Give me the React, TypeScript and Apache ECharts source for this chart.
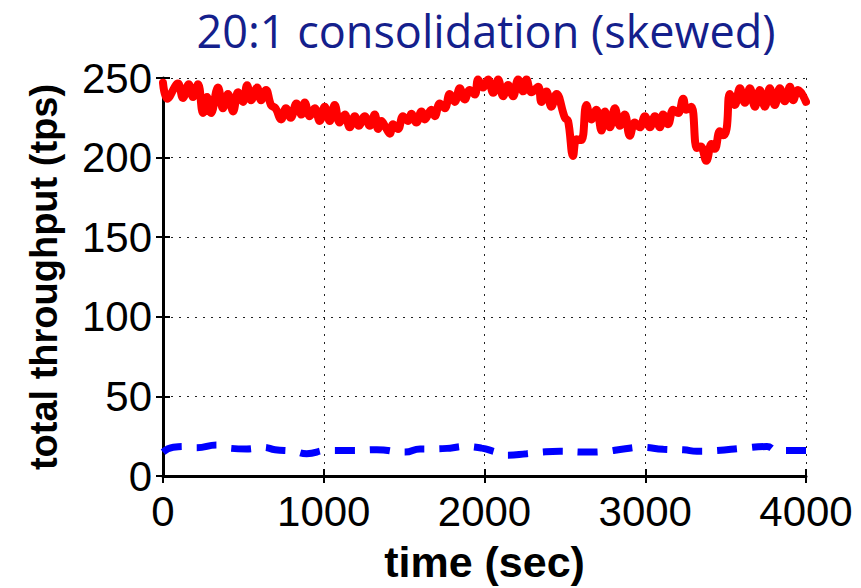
import React, { useEffect, useRef } from "react";
import * as echarts from "echarts";

const title = "20:1 consolidation (skewed)";
const xName = "time (sec)";
const yName = "total throughput (tps)";

// red (solid) series: time (sec) and throughput (tps)
const redTime = [
  0, 27, 93, 124, 160, 187, 218, 249, 274, 299, 342, 373, 404, 436, 467, 498, 523, 548, 585, 610,
  641, 672, 700, 735, 765, 795, 830, 861, 882, 913, 944, 975, 1006, 1037, 1068, 1099, 1131, 1162, 1193, 1218,
  1255, 1286, 1317, 1338, 1359, 1385, 1411, 1431, 1462, 1493, 1525, 1545, 1576, 1608, 1628, 1670, 1691, 1722, 1753, 1784,
  1815, 1846, 1877, 1908, 1940, 1960, 1991, 2022, 2054, 2085, 2116, 2147, 2178, 2209, 2240, 2261, 2292, 2334, 2354, 2385,
  2416, 2448, 2500, 2520, 2551, 2572, 2603, 2634, 2665, 2696, 2728, 2749, 2780, 2811, 2842, 2873, 2904, 2935, 2966, 2998,
  3029, 3060, 3091, 3111, 3142, 3174, 3205, 3236, 3256, 3287, 3321, 3345, 3380, 3412, 3433, 3464, 3485, 3506, 3526, 3557,
  3589, 3620, 3651, 3682, 3713, 3744, 3775, 3806, 3837, 3868, 3900, 3920, 3951, 4000,
];
const redValue = [
  247, 237, 246.5, 237.5, 246, 238, 246, 228, 238, 228, 244, 231, 240, 229, 241, 235, 245.5, 236, 244, 236,
  242.5, 233, 231, 224, 231, 225, 234, 227, 234.6, 226, 231, 223, 232, 223, 233, 222, 227, 219, 226, 220,
  226, 220, 227, 218, 223, 219, 215, 221, 218, 226, 223, 227.5, 222, 229, 224, 230, 226, 234, 231, 240,
  235, 243.5, 236.5, 242.5, 239.6, 249, 244, 249, 240.7, 249, 238.5, 245.6, 238.5, 249, 241.6, 249, 241, 244.5, 235, 241.5,
  232, 240, 225, 223, 201, 211.5, 211, 233, 224, 230, 217, 229, 219, 231, 220, 227, 213.7, 222, 219, 226,
  219, 226, 219, 227, 221, 230, 228, 237, 230, 232, 206, 207, 198, 208.5, 205.5, 216.6, 214, 218, 240, 233,
  243.5, 234.4, 243.5, 232, 242.4, 232, 243.5, 233, 243.5, 235.4, 244.5, 236, 242.5, 235,
];

// blue (dashed) series
const blueTime = [
  0, 64, 147, 209, 334, 407, 521, 624, 697, 811, 894, 1018, 1184, 1330, 1506, 1599, 1672, 1786, 1869, 1983,
  2056, 2139, 2263, 2356, 2470, 2637, 2761, 2854, 2979, 3113, 3238, 3321, 3445, 3611, 3757, 3819, 3943, 4000,
];
const blueValue = [
  15, 18, 18.5, 17.8, 19.5, 17.5, 17, 18, 16.5, 15.5, 14, 16, 16, 16.5, 15, 17, 17, 17.5, 18.5, 17.5,
  15.5, 13, 14, 15, 15.5, 15, 15.5, 16.8, 18, 16.8, 16.5, 15.5, 16, 17.5, 18.5, 16, 16, 16,
];

const xTicks = [0, 1000, 2000, 3000, 4000];
const yTicks = [0, 50, 100, 150, 200, 250];

export default function App() {
  const ref = useRef<HTMLDivElement>(null);
  useEffect(() => {
    if (!ref.current) return;
    const chart = echarts.init(ref.current, undefined, { renderer: "svg" });
    const labelFont = "'Liberation Sans', Arial, sans-serif";
    const gridLine = { show: true, lineStyle: { color: "#222", width: 1, type: [2, 6] as any } };
    chart.setOption({
      animation: false,
      backgroundColor: "#fff",
      title: {
        text: title,
        left: 484,
        top: 1,
        padding: 2,
        textAlign: "center",
        textStyle: {
          color: "#14208c",
          fontSize: 45,
          lineHeight: 54,
          fontWeight: "normal",
          fontFamily: "'Open Sans', 'Noto Sans', sans-serif",
        },
      },
      grid: { left: 163, right: 55, top: 78, bottom: 107, containLabel: false },
      xAxis: [
        {
          type: "value",
          min: xTicks[0],
          max: xTicks[xTicks.length - 1],
          interval: 1000,
          name: xName,
          nameLocation: "middle",
          nameGap: 64,
          nameTextStyle: { fontSize: 43, fontWeight: "bold", color: "#000", fontFamily: labelFont },
          axisLine: { show: true, lineStyle: { color: "#000", width: 3 } },
          axisTick: { show: true, inside: true, length: 7, lineStyle: { color: "#000", width: 2 } },
          axisLabel: {
            fontSize: 42,
            color: "#000",
            margin: 14,
            fontFamily: labelFont,
            formatter: (v: number) => String(v),
          },
          splitLine: gridLine,
        },
        {
          type: "value",
          position: "top",
          min: xTicks[0],
          max: xTicks[xTicks.length - 1],
          interval: 1000,
          axisLine: { show: true, lineStyle: { color: "#000", width: 2 } },
          axisTick: { show: true, inside: true, length: 7, lineStyle: { color: "#000", width: 2 } },
          axisLabel: { show: false },
          splitLine: { show: false },
        },
      ],
      yAxis: [
        {
          type: "value",
          min: yTicks[0],
          max: yTicks[yTicks.length - 1],
          interval: 50,
          name: yName,
          nameLocation: "middle",
          nameGap: 100,
          nameTextStyle: { fontSize: 38, fontWeight: "bold", color: "#000", fontFamily: labelFont },
          axisLine: { show: true, lineStyle: { color: "#000", width: 3 } },
          axisTick: { show: true, inside: true, length: 7, lineStyle: { color: "#000", width: 2 } },
          axisLabel: { fontSize: 42, color: "#000", margin: 11, fontFamily: labelFont },
          splitLine: gridLine,
        },
        {
          type: "value",
          position: "right",
          min: yTicks[0],
          max: yTicks[yTicks.length - 1],
          interval: 50,
          axisLine: { show: true, lineStyle: { color: "#000", width: 2 } },
          axisTick: { show: true, inside: true, length: 7, lineStyle: { color: "#000", width: 2 } },
          axisLabel: { show: false },
          splitLine: { show: false },
        },
      ],
      series: [
        {
          type: "line",
          data: redTime.map((t, i) => [t, redValue[i]]),
          showSymbol: false,
          smooth: 0.4,
          clip: true,
          lineStyle: { color: "#ff0000", width: 8, cap: "round", join: "round" },
          z: 3,
        },
        {
          type: "line",
          data: blueTime.map((t, i) => [t, blueValue[i]]),
          showSymbol: false,
          smooth: 0.5,
          clip: true,
          lineStyle: { color: "#0000ff", width: 7, type: [20, 15] as any, cap: "butt" },
          z: 3,
        },
      ],
    });
    return () => chart.dispose();
  }, []);
  return (
    <div
      ref={ref}
      style={{ position: "fixed", left: 0, top: 0, width: 861, height: 588 }}
    />
  );
}
